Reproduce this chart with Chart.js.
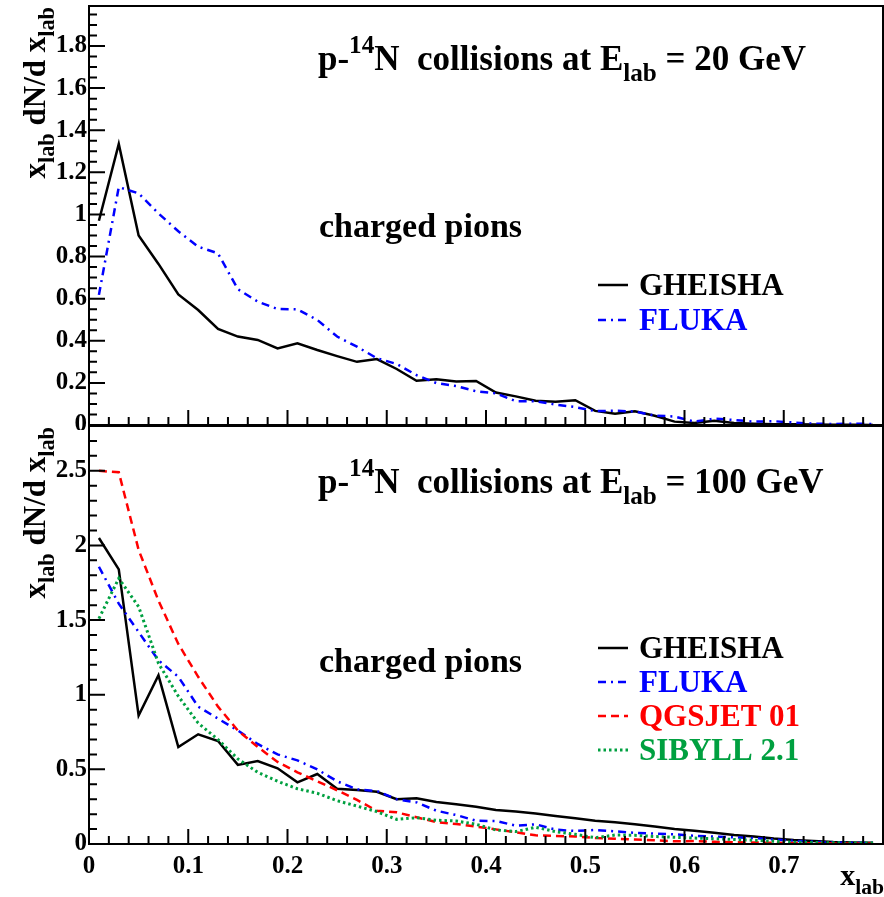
<!DOCTYPE html>
<html>
<head>
<meta charset="utf-8">
<script src="https://cdn.jsdelivr.net/npm/chart.js@4.4.1/dist/chart.umd.min.js"></script>
<style>
  html, body { margin: 0; padding: 0; background: #fff; }
  #wrap { position: relative; width: 884px; height: 897px; overflow: hidden; }
  #wrap canvas { position: absolute; left: 0; }
</style>
</head>
<body>
<div id="wrap">
  <canvas id="panel20" width="884" height="430" style="top:0px"></canvas>
  <canvas id="panel100" width="884" height="477" style="top:420px"></canvas>
</div>
<script>
// bin centres in x_lab
const xBins = [0.01, 0.03, 0.05, 0.07, 0.09, 0.11, 0.13, 0.15, 0.17, 0.19,
               0.21, 0.23, 0.25, 0.27, 0.29, 0.31, 0.33, 0.35, 0.37, 0.39,
               0.41, 0.43, 0.45, 0.47, 0.49, 0.51, 0.53, 0.55, 0.57, 0.59,
               0.61, 0.63, 0.65, 0.67, 0.69, 0.71, 0.73, 0.75, 0.77, 0.79];

// p-14N at 20 GeV
const gheisha20 = [0.97, 1.335, 0.90, 0.765, 0.62, 0.546, 0.456, 0.42, 0.404, 0.364,
                   0.388, 0.356, 0.327, 0.30, 0.313, 0.266, 0.21, 0.217, 0.207, 0.209,
                   0.154, 0.136, 0.115, 0.110, 0.118, 0.067, 0.054, 0.065, 0.044, 0.016,
                   0.010, 0.020, 0.010, 0.006, 0.004, 0.003, 0.002, 0.001, 0.001, 0.0];
const fluka20 = [0.618, 1.13, 1.10, 1.005, 0.92, 0.847, 0.815, 0.645, 0.586, 0.551,
                 0.549, 0.499, 0.42, 0.372, 0.317, 0.29, 0.237, 0.199, 0.185, 0.16,
                 0.15, 0.113, 0.113, 0.097, 0.085, 0.066, 0.068, 0.064, 0.045, 0.04,
                 0.016, 0.03, 0.024, 0.016, 0.018, 0.012, 0.006, 0.005, 0.006, 0.005];

// p-14N at 100 GeV
const gheisha100 = [2.05, 1.84, 0.86, 1.13, 0.65, 0.735, 0.69, 0.53, 0.556, 0.507,
                    0.413, 0.469, 0.37, 0.362, 0.35, 0.30, 0.306, 0.281, 0.266, 0.25,
                    0.228, 0.217, 0.205, 0.188, 0.172, 0.156, 0.145, 0.133, 0.117, 0.10,
                    0.088, 0.075, 0.06, 0.05, 0.037, 0.027, 0.02, 0.013, 0.01, 0.008];
const fluka100 = [1.857, 1.61, 1.42, 1.23, 1.12, 0.92, 0.84, 0.76, 0.67, 0.60,
                  0.56, 0.50, 0.42, 0.366, 0.355, 0.30, 0.279, 0.223, 0.194, 0.156,
                  0.154, 0.123, 0.132, 0.096, 0.087, 0.094, 0.085, 0.075, 0.07, 0.065,
                  0.055, 0.05, 0.045, 0.04, 0.03, 0.022, 0.015, 0.01, 0.008, 0.006];
const qgsjet100 = [2.50, 2.49, 1.97, 1.63, 1.34, 1.12, 0.92, 0.76, 0.65, 0.55,
                   0.48, 0.42, 0.36, 0.295, 0.223, 0.212, 0.179, 0.147, 0.134, 0.116,
                   0.098, 0.078, 0.058, 0.054, 0.051, 0.04, 0.035, 0.03, 0.025, 0.018,
                   0.02, 0.015, 0.012, 0.01, 0.008, 0.006, 0.005, 0.004, 0.003, 0.003];
const sibyll100 = [1.51, 1.78, 1.59, 1.21, 0.99, 0.81, 0.70, 0.57, 0.48, 0.42,
                   0.37, 0.34, 0.29, 0.254, 0.217, 0.165, 0.176, 0.159, 0.154, 0.132,
                   0.094, 0.083, 0.112, 0.083, 0.065, 0.042, 0.06, 0.058, 0.05, 0.045,
                   0.04, 0.035, 0.03, 0.025, 0.018, 0.012, 0.01, 0.008, 0.007, 0.007];

// tick labels
const xTicks = [0, 0.1, 0.2, 0.3, 0.4, 0.5, 0.6, 0.7];
const yTicks20 = [0, 0.2, 0.4, 0.6, 0.8, 1, 1.2, 1.4, 1.6, 1.8];
const yTicks100 = [0, 0.5, 1, 1.5, 2, 2.5];

const SERIF = '"Liberation Serif", "Times New Roman", serif';
const font = (size) => `bold ${size}px ${SERIF}`;

const STYLE = {
    GHEISHA: { color: "#000000", dash: [], width: 2.5 },
    FLUKA: { color: "#0000ff", dash: [8, 5, 2, 5], width: 2.5 },
    "QGSJET 01": { color: "#ff0000", dash: [8, 5], width: 2.5 },
    "SIBYLL 2.1": { color: "#00a040", dash: [2.5, 3], width: 3 },
};

function series(ys) {
    return xBins.map((x, i) => ({ x: x, y: ys[i] }));
}

function dataset(label, ys) {
    const s = STYLE[label];
    return {
        label: label,
        data: series(ys),
        borderColor: s.color,
        borderWidth: s.width,
        borderDash: s.dash,
        pointRadius: 0,
        tension: 0,
        fill: false,
    };
}

function richWidth(ctx, parts, size) {
    let w = 0;
    for (const [t, m] of parts) {
        ctx.font = font(m ? size * 0.72 : size);
        w += ctx.measureText(t).width;
    }
    return w;
}

function drawRich(ctx, parts, x, y, size, color) {
    ctx.fillStyle = color;
    ctx.textAlign = "left";
    ctx.textBaseline = "alphabetic";
    for (const [t, m] of parts) {
        const s = m ? size * 0.72 : size;
        const dy = m === "sub" ? size * 0.3 : m === "sup" ? -size * 0.5 : 0;
        ctx.font = font(s);
        ctx.fillText(t, x, y + dy);
        x += ctx.measureText(t).width;
    }
}

const yTitle = [["x", ""], ["lab", "sub"], [" dN/d x", ""], ["lab", "sub"]];
const xTitle = [["x", ""], ["lab", "sub"]];

// ROOT-like frame, inward ticks, titles and legend
function rootPanel(cfg) {
    return {
        id: "rootPanel",
        afterDatasetsDraw(chart) {
            const { ctx, chartArea: a, scales } = chart;
            const x = scales.x, y = scales.y;
            ctx.save();
            ctx.strokeStyle = "#000";
            ctx.lineWidth = 2;
            ctx.setLineDash([]);

            ctx.beginPath();
            for (let i = 0; i * 0.02 <= x.max - 0.005; i++) {
                const px = x.getPixelForValue(i * 0.02);
                const len = i % 5 === 0 ? 15 : 8;
                ctx.moveTo(px, a.bottom);
                ctx.lineTo(px, a.bottom - len);
            }
            for (let i = 0; i * cfg.yMinor <= y.max + 1e-9; i++) {
                const py = y.getPixelForValue(i * cfg.yMinor);
                const len = i % cfg.yEvery === 0 ? 16 : 8;
                ctx.moveTo(a.left, py);
                ctx.lineTo(a.left + len, py);
            }
            ctx.stroke();
            ctx.strokeRect(a.left, a.top, a.right - a.left, a.bottom - a.top);

            // y title, rotated, right aligned to frame top
            const wy = richWidth(ctx, yTitle, 31);
            ctx.save();
            ctx.translate(45, a.top + 1);
            ctx.rotate(-Math.PI / 2);
            drawRich(ctx, yTitle, -wy, 0, 31, "#000");
            ctx.restore();

            // panel title
            drawRich(ctx, [["p-", ""], ["14", "sup"], ["N  collisions at E", ""], ["lab", "sub"], [" = " + cfg.energy + " GeV", ""]],
                318, cfg.titleY, 35, "#000");
            drawRich(ctx, [["charged pions", ""]], 319, cfg.pionsY, 34, "#000");

            // legend
            cfg.legend.forEach((name, i) => {
                const s = STYLE[name];
                const by = cfg.legendY + i * cfg.legendStep;
                ctx.strokeStyle = s.color;
                ctx.lineWidth = s.width;
                ctx.setLineDash(s.dash);
                ctx.beginPath();
                ctx.moveTo(598, by - 10);
                ctx.lineTo(628, by - 10);
                ctx.stroke();
                drawRich(ctx, [[name, ""]], 639, by, 31, s.color);
            });

            if (cfg.xTitle) {
                const wx = richWidth(ctx, xTitle, 30);
                drawRich(ctx, xTitle, 884 - wx, a.bottom + 41, 30, "#000");
            }
            ctx.restore();
        },
    };
}

function makeChart(id, datasets, yMax, yTicks, showX, pad, cfg) {
    const canvas = document.getElementById(id);
    return new Chart(canvas.getContext("2d"), {
        type: "line",
        data: { datasets: datasets },
        options: {
            responsive: false,
            animation: false,
            events: [],
            layout: { padding: pad },
            plugins: { legend: { display: false }, tooltip: { enabled: false } },
            scales: {
                x: {
                    type: "linear",
                    min: 0,
                    max: 0.8,
                    display: showX,
                    grid: { display: false, drawTicks: false },
                    border: { display: false },
                    afterFit: (s) => {
                        s.height = showX ? 53 : 0;
                        s.paddingLeft = 0;
                        s.paddingRight = 0;
                    },
                    afterBuildTicks: (s) => { s.ticks = xTicks.map((v) => ({ value: v })); },
                    ticks: {
                        autoSkip: false,
                        maxRotation: 0,
                        padding: 8,
                        color: "#000",
                        font: { family: SERIF, size: 25, weight: "bold" },
                        callback: (v) => String(v),
                    },
                },
                y: {
                    type: "linear",
                    min: 0,
                    max: yMax,
                    grid: { display: false, drawTicks: false },
                    border: { display: false },
                    afterFit: (s) => {
                        s.width = 89;
                        s.paddingTop = 0;
                        s.paddingBottom = 0;
                    },
                    afterBuildTicks: (s) => { s.ticks = yTicks.map((v) => ({ value: v })); },
                    ticks: {
                        padding: 2,
                        color: "#000",
                        font: { family: SERIF, size: 25, weight: "bold" },
                        callback: (v) => String(v),
                    },
                },
            },
        },
        plugins: [rootPanel(cfg)],
    });
}

makeChart("panel20",
    [dataset("FLUKA", fluka20), dataset("GHEISHA", gheisha20)],
    1.99, yTicks20, false, { top: 6, right: 1, bottom: 5, left: 0 },
    { yMinor: 0.05, yEvery: 4, energy: "20", titleY: 70, pionsY: 237,
      legend: ["GHEISHA", "FLUKA"], legendY: 295, legendStep: 35, xTitle: false });

makeChart("panel100",
    [dataset("SIBYLL 2.1", sibyll100), dataset("QGSJET 01", qgsjet100),
     dataset("FLUKA", fluka100), dataset("GHEISHA", gheisha100)],
    2.8, yTicks100, true, { top: 6, right: 1, bottom: 0, left: 0 },
    { yMinor: 0.1, yEvery: 5, energy: "100", titleY: 73, pionsY: 252,
      legend: ["GHEISHA", "FLUKA", "QGSJET 01", "SIBYLL 2.1"], legendY: 238, legendStep: 34, xTitle: true });
</script>
</body>
</html>
